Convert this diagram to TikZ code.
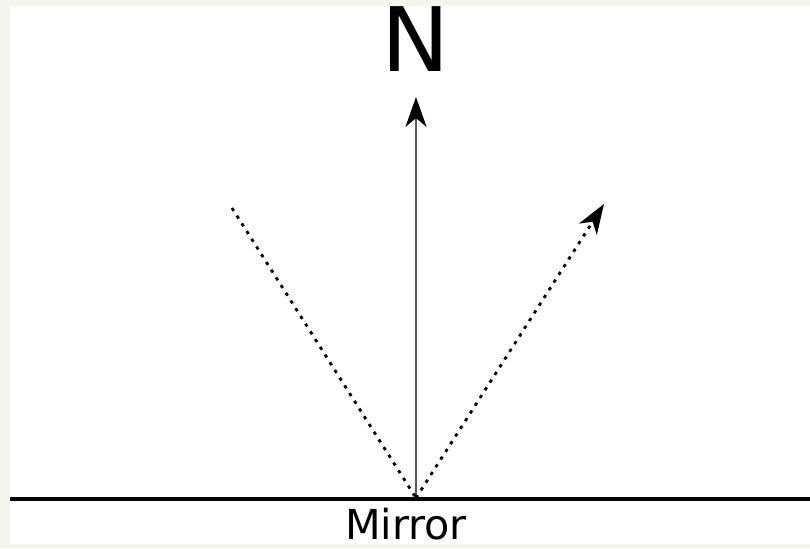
\documentclass[tikz,border=0pt]{standalone}
\usepackage{fontspec}
\setmainfont{DejaVu Sans}
\usepackage{tikz}
\usetikzlibrary{arrows.meta, positioning, calc}
\usepackage{xcolor}
\definecolor{frame}{HTML}{F3F6EC}
\definecolor{normal}{HTML}{5A5A5A}

\begin{document}
\begin{tikzpicture}[x=0.02cm, y=-0.02cm,
        ray/.style={line width=1.6pt, dash pattern=on 1.9pt off 3.3pt},
        tip/.style={-{Stealth[length=17pt, width=12pt, inset=5pt, color=black]}}]
    \useasboundingbox (0,0) rectangle (810,548);
    % points on the mirror
    \coordinate (O) at (416,498);
    \coordinate (mL) at (0,499);
    \coordinate (mR) at (810,499);
    \coordinate (top) at (416,97);
    \coordinate (inc) at (232,208);
    \coordinate (refl) at (604,204);
    % mirror and normal
    \draw[line width=2.2pt] (mL) -- (mR);
    \draw[normal, line width=1.3pt, tip] (O) -- (top);
    \node[anchor=base, inner sep=0pt, font=\fontsize{52pt}{52pt}\selectfont] (N) at (416,71) {N};
    \node[anchor=base, inner sep=0pt, font=\fontsize{23.5pt}{23.5pt}\selectfont] (mirror) at (406,539) {Mirror};
    % incoming and reflected rays
    \draw[ray] (inc) -- (O);
    \draw[ray, tip] (O) -- (refl);
    % light frame round the picture
    \fill[frame, even odd rule] (0,0) rectangle (810,548) (10,6) rectangle (810,544);
\end{tikzpicture}
\end{document}
